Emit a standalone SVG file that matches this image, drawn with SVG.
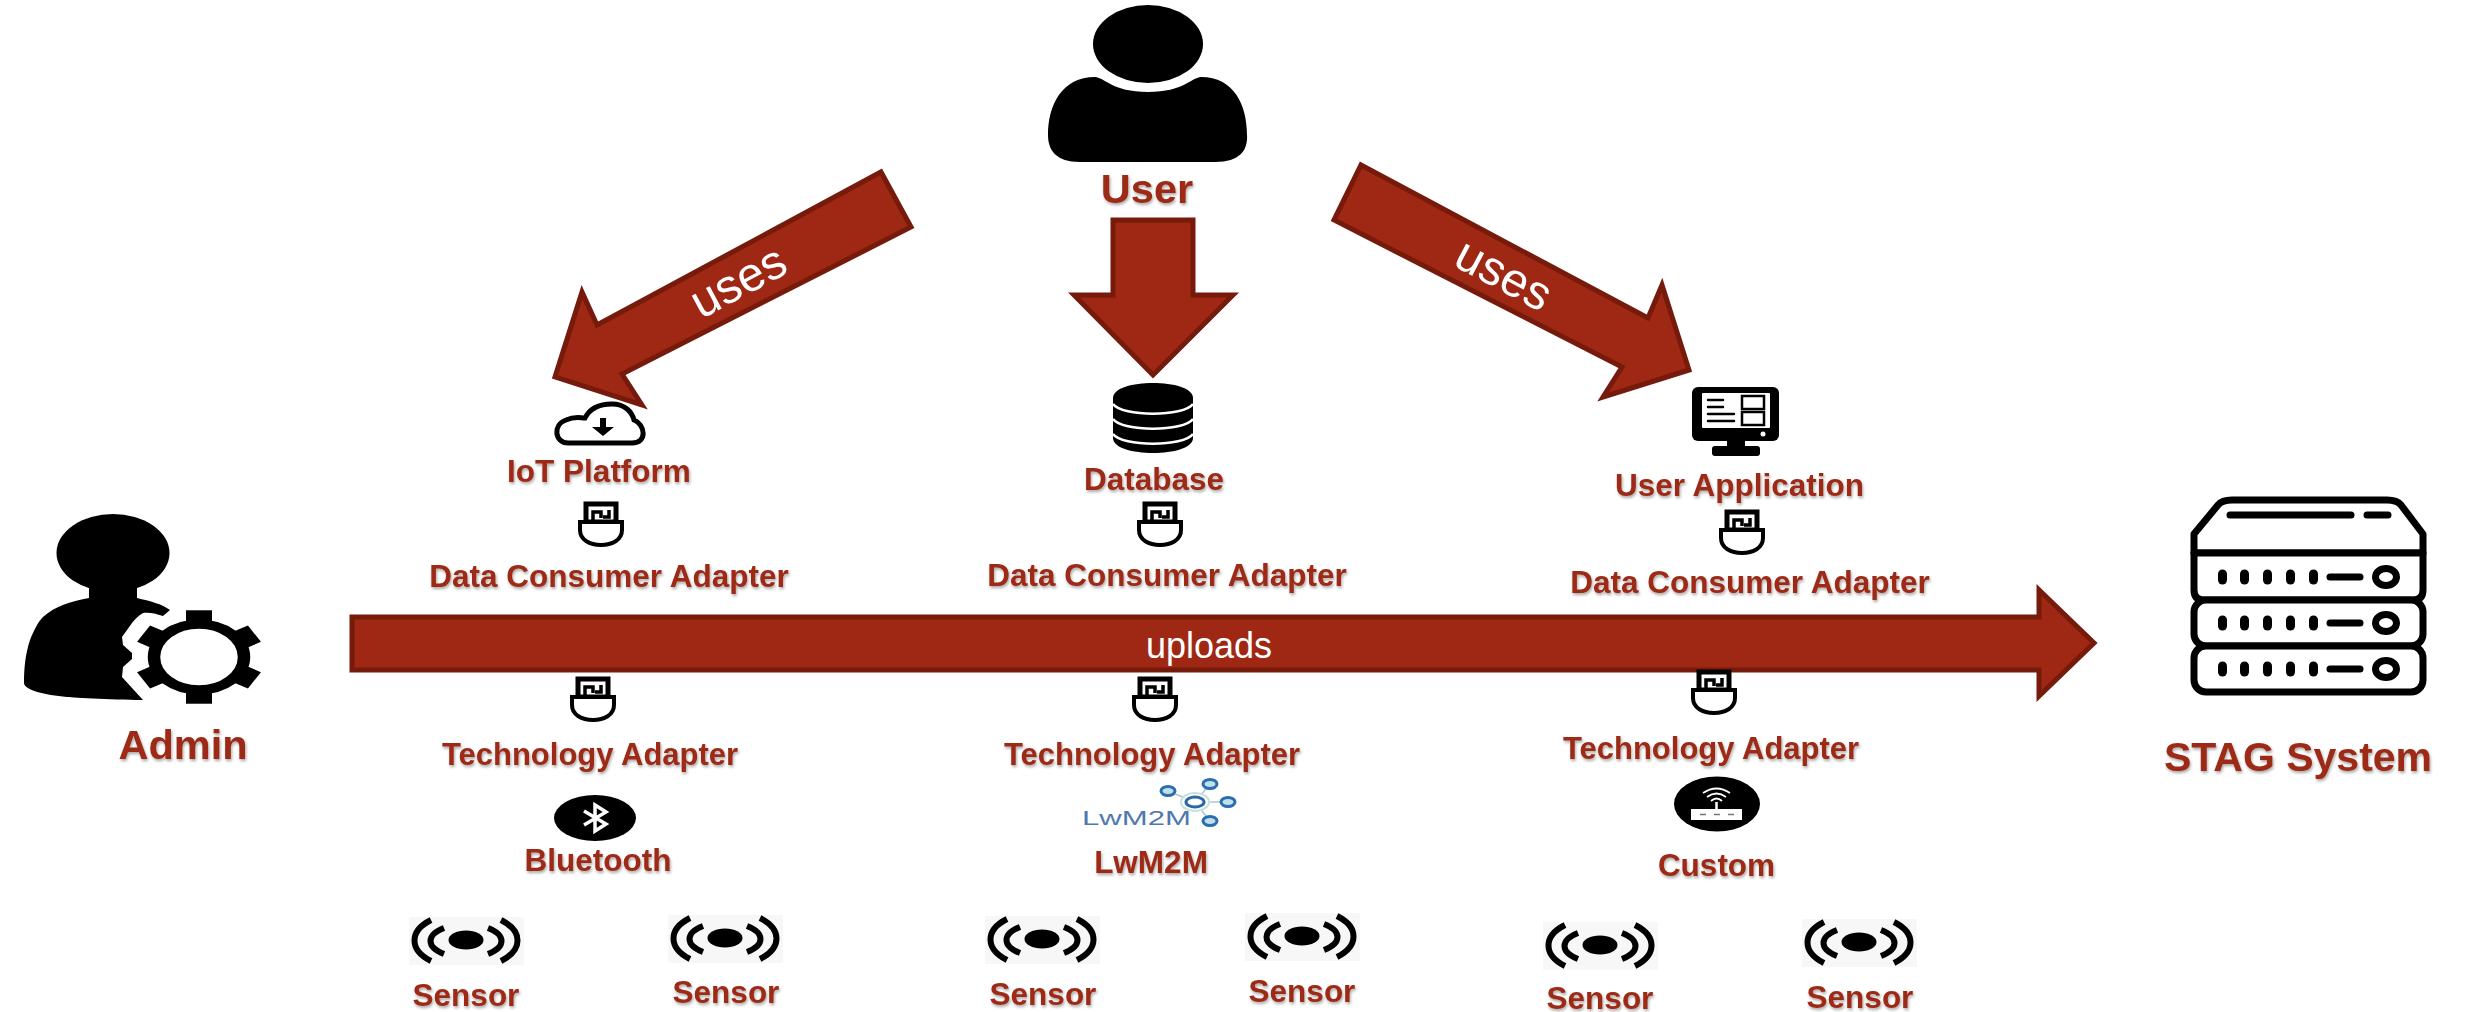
<svg xmlns="http://www.w3.org/2000/svg" xmlns:xlink="http://www.w3.org/1999/xlink" width="2465" height="1012" viewBox="0 0 2465 1012">
<style>
text{font-family:"Liberation Sans",Arial,sans-serif}
.lbl{fill:#9c2914;font-weight:700;font-size:31.5px;text-anchor:middle;filter:url(#ts)}
.big{font-size:41.5px}
.arrow{fill:#9e2813;stroke:#761a0b;stroke-width:5;stroke-linejoin:miter}
.on{fill:#fff;text-anchor:middle}
.ln{fill:none;stroke:#000;stroke-width:7;stroke-linecap:round;stroke-linejoin:round}
.sv{fill:#fff;stroke:#000;stroke-width:7;stroke-linejoin:round}
</style>
<defs>
<filter id="ts" x="-10%" y="-20%" width="120%" height="150%"><feDropShadow dx="1" dy="2" stdDeviation="1.4" flood-color="#000" flood-opacity=".35"/></filter>
<g id="usb">
<rect x="8" y="2" width="30" height="18" fill="#fff" stroke="#000" stroke-width="5"/>
<path d="M15 18V10H23V16M31 8V15H25" fill="none" stroke="#000" stroke-width="3.500"/>
<path d="M2 20H44V28C44 38 34 43 23 43C12 43 2 38 2 28Z" fill="#fff" stroke="#000" stroke-width="4"/>
</g>
<g id="sensor">
<rect width="115" height="48" fill="#f7f7f7"/>
<ellipse cx="57" cy="23" rx="17.500" ry="9.500"/>
<path d="M22 3C0 14 0 33 22 44M35 11C17 18 17 30 35 37M92 3C114 14 114 33 92 44M79 11C97 18 97 30 79 37" fill="none" stroke="#000" stroke-width="6"/>
</g>
<g id="row">
<g fill="#000"><rect x="2218" y="-7.500" width="9" height="15" rx="4.500"/><rect x="2240" y="-7.500" width="9" height="15" rx="4.500"/><rect x="2263" y="-7.500" width="9" height="15" rx="4.500"/><rect x="2286" y="-7.500" width="9" height="15" rx="4.500"/><rect x="2309" y="-7.500" width="9" height="15" rx="4.500"/></g>
<path class="ln" d="M2330 0H2360"/>
<ellipse cx="2386" cy="0" rx="10.500" ry="8.500" fill="#fff" stroke="#000" stroke-width="7"/>
</g>
</defs>
<rect width="2465" height="1012" fill="#fff"/>

<g id="connectors">
<path class="arrow" d="M881 172L911 227L622 374L642 405L555 377L582 292L597 325Z"/>
<path class="arrow" d="M1113 220H1193V295H1233L1153 375L1074 295H1113Z"/>
<path class="arrow" d="M1361 165L1648 318L1662 285L1689 370L1603 397L1622 367L1334 220Z"/>
<path class="arrow" d="M352 617H2039V590L2094 643L2039 696V670H352Z"/>
<text class="on" font-size="48" transform="translate(740 285) rotate(-28)" y="12">uses</text>
<text class="on" font-size="48" transform="translate(1502 278) rotate(28)" y="12">uses</text>
<text class="on" font-size="36" x="1209" y="658">uploads</text>
</g>

<g id="user">
<ellipse cx="1148" cy="44" rx="55" ry="39"/>
<path d="M1048 135C1048 105 1062 77 1095 77C1104 77 1112 92 1148 92C1184 92 1192 77 1201 77C1234 77 1247 105 1247 135C1248 150 1240 162 1215 162H1080C1056 162 1048 150 1048 135Z"/>
<text class="lbl big" x="1147" y="203">User</text>
</g>

<g id="admin">
<ellipse cx="113" cy="553" rx="56.500" ry="39"/>
<path d="M89 585H137V598C150 601 162 604 170 610L163 616C155 613 148 612 143 613C138 616 135 619 132 623L122 637L123 645L132 653V659L123 667L122 677L143 700C110 700 67 697 67 697C45 695 24 690 24 683C24 670 25 655 30 640C34 630 38 622 43 617C55 606 72 601 89 598Z"/>
<g transform="translate(199 657) scale(1 .73)">
<circle r="45" fill="none" stroke="#000" stroke-width="12.500"/>
<g><rect x="-13" y="-64" width="26" height="20"/><rect x="-13" y="-64" width="26" height="20" transform="rotate(60)"/><rect x="-13" y="-64" width="26" height="20" transform="rotate(120)"/><rect x="-13" y="-64" width="26" height="20" transform="rotate(180)"/><rect x="-13" y="-64" width="26" height="20" transform="rotate(240)"/><rect x="-13" y="-64" width="26" height="20" transform="rotate(300)"/></g>
</g>
<text class="lbl big" x="183" y="759">Admin</text>
</g>

<g id="stag-system">
<path class="sv" d="M2194 553V534L2218 505Q2222 500 2232 500H2387Q2397 500 2401 505L2423 534V553Z"/>
<path class="sv" d="M2194 553H2423V590Q2423 600 2413 600H2204Q2194 600 2194 590Z"/>
<rect class="sv" x="2194" y="600" width="229" height="46" rx="12"/>
<rect class="sv" x="2194" y="646" width="229" height="46" rx="12"/>
<path class="ln" d="M2230 515H2351M2367 515H2388"/>
<use xlink:href="#row" href="#row" y="577"/>
<use xlink:href="#row" href="#row" y="623"/>
<use xlink:href="#row" href="#row" y="669"/>
<text class="lbl" style="font-size:41px" x="2298" y="771">STAG System</text>
</g>

<g id="iot-platform">
<path d="M568 443C555 443 552 425 566 420C575 416 580 418 585 418C590 408 600 404 612 404C625 404 632 412 634 420C645 424 648 443 632 443Z" fill="#fff" stroke="#000" stroke-width="5"/>
<path d="M600 418H606V427H614L603 436L592 427H600Z"/>
<text class="lbl" x="599" y="482">IoT Platform</text>
</g>
<g id="adapter-consumer-1"><use xlink:href="#usb" href="#usb" x="578" y="502"/><text class="lbl" x="609" y="587">Data Consumer Adapter</text></g>
<g id="adapter-technology-1"><use xlink:href="#usb" href="#usb" x="570" y="677"/><text class="lbl" style="font-size:31px" x="590" y="765">Technology Adapter</text></g>
<g id="bluetooth">
<ellipse cx="595" cy="818" rx="41" ry="23"/>
<path d="M584 811L606 824L595 831V805L606 812L584 825" fill="none" stroke="#fff" stroke-width="3.500"/>
<text class="lbl" x="598" y="871">Bluetooth</text>
</g>
<g id="sensor-1"><use xlink:href="#sensor" href="#sensor" x="409" y="917"/><text class="lbl" x="466" y="1006">Sensor</text></g>
<g id="sensor-2"><use xlink:href="#sensor" href="#sensor" x="668" y="915"/><text class="lbl" x="726" y="1003">Sensor</text></g>

<g id="database">
<path d="M1113 398C1113 378 1193 378 1193 398V438C1193 458 1113 458 1113 438Z"/>
<path d="M1113 404C1122 417 1184 417 1193 404M1113 419C1122 432 1184 432 1193 419M1113 434C1122 447 1184 447 1193 434" fill="none" stroke="#fff" stroke-width="2.500"/>
<text class="lbl" x="1154" y="490">Database</text>
</g>
<g id="adapter-consumer-2"><use xlink:href="#usb" href="#usb" x="1137" y="502"/><text class="lbl" x="1167" y="586">Data Consumer Adapter</text></g>
<g id="adapter-technology-2"><use xlink:href="#usb" href="#usb" x="1132" y="677"/><text class="lbl" style="font-size:31px" x="1152" y="765">Technology Adapter</text></g>
<g id="lwm2m">
<path d="M1168 791L1195 802L1210 784M1195 802H1228M1195 802L1210 821" fill="none" stroke="#a9c8cf" stroke-width="1.500"/>
<ellipse cx="1195" cy="802" rx="14" ry="9" fill="#fff" stroke="#c6e0dc" stroke-width="2"/>
<ellipse cx="1195" cy="802" rx="9" ry="5" fill="#fff" stroke="#2a66a8" stroke-width="3"/>
<g fill="#bfe0e8" stroke="#2a6db0" stroke-width="3"><ellipse cx="1168" cy="791" rx="7" ry="4.500"/><ellipse cx="1210" cy="784" rx="7" ry="4.500"/><ellipse cx="1228" cy="802" rx="7" ry="4.500"/><ellipse cx="1210" cy="821" rx="7" ry="4.500"/></g>
<text x="1082" y="825" font-size="21" fill="#4f78ae" textLength="109" lengthAdjust="spacingAndGlyphs" style="font-weight:400">LwM2M</text>
<text class="lbl" x="1151" y="873">LwM2M</text>
</g>
<g id="sensor-3"><use xlink:href="#sensor" href="#sensor" x="985" y="916"/><text class="lbl" x="1043" y="1005">Sensor</text></g>
<g id="sensor-4"><use xlink:href="#sensor" href="#sensor" x="1245" y="913"/><text class="lbl" x="1302" y="1002">Sensor</text></g>

<g id="user-application">
<rect x="1692" y="387" width="87" height="54" rx="6"/>
<rect x="1702" y="393" width="68" height="35" rx="1" fill="#fff"/>
<rect x="1727" y="440" width="18" height="8"/>
<rect x="1712" y="446" width="48" height="10" rx="3"/>
<circle cx="1763" cy="434" r="2.500" fill="#fff"/>
<path d="M1708 400H1723M1708 407H1723M1708 414H1734M1708 421H1734" fill="none" stroke="#000" stroke-width="2.500" stroke-linecap="round"/>
<rect x="1742" y="396" width="22" height="13" fill="#fff" stroke="#000" stroke-width="2.500"/>
<rect x="1742" y="412" width="22" height="13" fill="#fff" stroke="#000" stroke-width="2.500"/>
<text class="lbl" x="1739.500" y="496">User Application</text>
</g>
<g id="adapter-consumer-3"><use xlink:href="#usb" href="#usb" x="1719" y="510"/><text class="lbl" x="1750" y="593">Data Consumer Adapter</text></g>
<g id="adapter-technology-3"><use xlink:href="#usb" href="#usb" x="1691" y="670"/><text class="lbl" style="font-size:31px" x="1711" y="759">Technology Adapter</text></g>
<g id="custom">
<ellipse cx="1717" cy="804" rx="43" ry="27.500"/>
<rect x="1691" y="809" width="51" height="11" fill="#fff"/>
<path d="M1700 814.500H1706M1714 814.500H1720M1728 814.500H1734" stroke="#777" stroke-width="1.500"/>
<path d="M1716.500 802V809" stroke="#fff" stroke-width="2.500"/>
<path d="M1703 793Q1716.500 784 1730 793M1707 797Q1716.500 790 1726 797M1711 801Q1716.500 796 1722 801" fill="none" stroke="#fff" stroke-width="1.800"/>
<text class="lbl" x="1716.500" y="876">Custom</text>
</g>
<g id="sensor-5"><use xlink:href="#sensor" href="#sensor" x="1543" y="922"/><text class="lbl" x="1600" y="1008.500">Sensor</text></g>
<g id="sensor-6"><use xlink:href="#sensor" href="#sensor" x="1802" y="919"/><text class="lbl" x="1860" y="1008">Sensor</text></g>
</svg>
